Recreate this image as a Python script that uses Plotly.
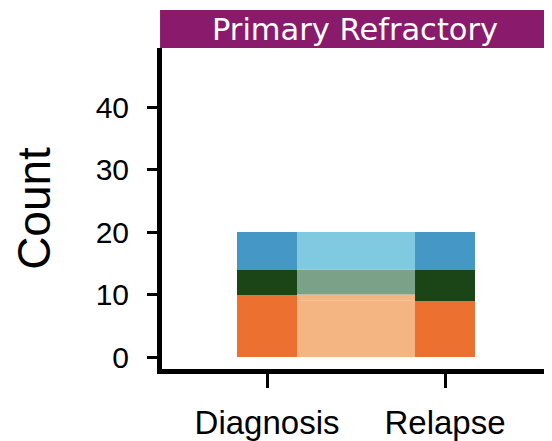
import plotly.graph_objects as go

# ---- data ----
stages = ["Diagnosis", "Relapse"]
groups = ["Orange", "Green", "Blue"]
diagnosis_counts = [10, 4, 6]
relapse_counts = [9, 5, 6]
# flows: (source group, target group, count)
flow_src = ["Orange", "Orange", "Green", "Blue"]
flow_tgt = ["Orange", "Green", "Green", "Blue"]
flow_val = [9, 1, 4, 6]
y_ticks = [0, 10, 20, 30, 40]
panel_title = "Primary Refractory"

bar_colors = {"Orange": "#EC702F", "Green": "#1B4417", "Blue": "#4597C5"}
flow_colors = {"Orange": "#F4B583", "Green": "#7BA289", "Blue": "#80CAE1"}

BAR_W = 0.337
x_pos = {s: i for i, s in enumerate(stages)}

fig = go.Figure()

# ---- ribbons (flows) ----
order = {g: i for i, g in enumerate(groups)}
def node_base(counts):
    base, c = {}, 0
    for g, v in zip(groups, counts):
        base[g] = c
        c += v
    return base
src_off = node_base(diagnosis_counts)
tgt_off = node_base(relapse_counts)
idx = list(range(len(flow_val)))
src_pos = {}
for i in sorted(idx, key=lambda k: (order[flow_src[k]], order[flow_tgt[k]])):
    src_pos[i] = src_off[flow_src[i]]
    src_off[flow_src[i]] += flow_val[i]
tgt_pos = {}
for i in sorted(idx, key=lambda k: (order[flow_tgt[k]], order[flow_src[k]])):
    tgt_pos[i] = tgt_off[flow_tgt[i]]
    tgt_off[flow_tgt[i]] += flow_val[i]

x0 = x_pos["Diagnosis"] + BAR_W / 2
x1 = x_pos["Relapse"] - BAR_W / 2
for i in idx:
    a, b = src_pos[i], tgt_pos[i]
    v = flow_val[i]
    fig.add_trace(go.Scatter(
        x=[x0, x1, x1, x0, x0],
        y=[a, b, b + v, a + v, a],
        fill="toself", mode="lines", line=dict(width=0),
        fillcolor=flow_colors[flow_src[i]], hoverinfo="skip", showlegend=False))

# ---- stacked bars ----
for gi, g in enumerate(groups):
    fig.add_trace(go.Bar(
        x=[x_pos["Diagnosis"], x_pos["Relapse"]],
        y=[diagnosis_counts[gi], relapse_counts[gi]],
        width=BAR_W, marker=dict(color=bar_colors[g], line=dict(width=0)),
        name=g, showlegend=False))

fig.update_layout(
    barmode="stack",
    width=544, height=433,
    margin=dict(l=154, r=0, t=40, b=72),
    paper_bgcolor="white", plot_bgcolor="white",
    font=dict(family="Liberation Sans, Arial, sans-serif", color="black"),
    xaxis=dict(
        range=[-0.59, 1.601], tickvals=[x_pos[s] for s in stages], ticktext=stages,
        showgrid=False, zeroline=False, showline=True, linecolor="black", linewidth=5,
        ticks="outside", ticklen=14, tickwidth=3, tickcolor="black",
        ticklabelstandoff=6,
        tickfont=dict(size=33)),
    yaxis=dict(
        range=[-1.92, 49.44], tickvals=y_ticks,
        showgrid=False, zeroline=False, showline=True, linecolor="black", linewidth=5,
        ticks="outside", ticklen=10, tickwidth=3, tickcolor="black",
        ticklabelstandoff=12,
        tickfont=dict(size=30),
        title=dict(text="Count", font=dict(size=46, family="Liberation Sans Narrow, Arial Narrow, sans-serif"), standoff=33)),
    shapes=[dict(type="rect", xref="paper", yref="paper", x0=-0.005, x1=1.0,
                 y0=1.0, y1=1.118, fillcolor="#8A1A6C", line=dict(width=0), layer="above")],
    annotations=[dict(text=panel_title, xref="paper", yref="paper", x=0.495, y=1.059,
                      xanchor="center", yanchor="middle", showarrow=False,
                      font=dict(size=30.5, color="white", family="DejaVu Sans, sans-serif"))],
)

fig.write_html("out.html")
